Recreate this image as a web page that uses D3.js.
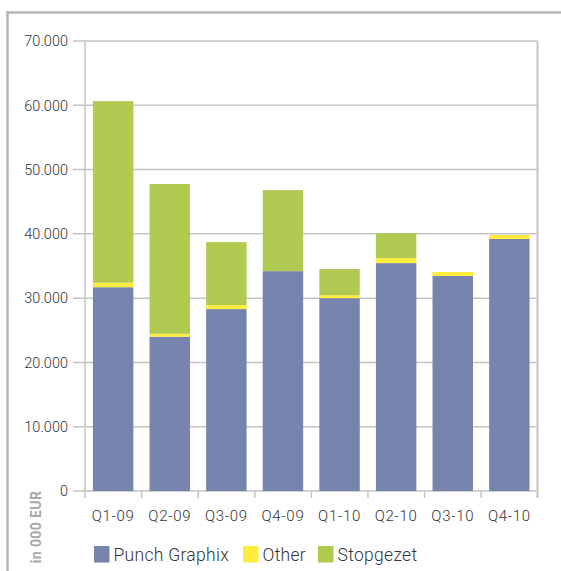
<!DOCTYPE html>
<html><head><meta charset="utf-8">
<script src="https://cdn.jsdelivr.net/npm/d3@7"></script>
<style>
body{margin:0;background:#fff;}
svg{display:block;}
text{font-family:Roboto,"Liberation Sans",sans-serif;}
</style></head><body>
<script>
const categories = ["Q1-09","Q2-09","Q3-09","Q4-09","Q1-10","Q2-10","Q3-10","Q4-10"];
const punchGraphix = [31700, 24000, 28300, 34200, 30000, 35450, 33450, 39200];
const other = [700, 450, 620, 0, 460, 780, 620, 620];
const stopgezet = [28250, 23300, 9800, 12600, 4070, 3880, 0, 0];
const seriesNames = ["Punch Graphix","Other","Stopgezet"];
const seriesColors = ["#7784ad","#ffec3b","#b1cb52"];
const yTicks = [0,10000,20000,30000,40000,50000,60000,70000];

(function(){
const W = 561, H = 571;
const svg = d3.select("body").append("svg").attr("width", W).attr("height", H);

// outer frame
svg.append("line").attr("x1",7).attr("x2",W).attr("y1",12.5).attr("y2",12.5).attr("stroke","#b4b4b4").attr("stroke-width",2.5);
svg.append("line").attr("x1",7.5).attr("x2",7.5).attr("y1",11).attr("y2",H).attr("stroke","#b4b4b4").attr("stroke-width",2.5);

const pLeft = 85, pRight = 537.5, pTop = 41, pBottom = 491;
const x = d3.scaleBand().domain(categories).range([pLeft, pRight]).paddingInner(0.285).paddingOuter(0.14);
const y = d3.scaleLinear().domain([0,70000]).range([pBottom, pTop]);

const table = categories.map((c,i)=>({cat:c, "Punch Graphix":punchGraphix[i], "Other":other[i], "Stopgezet":stopgezet[i]}));
const stack = d3.stack().keys(seriesNames)(table);

const fmt = d => d3.format(",")(d).replace(/,/g,".");
svg.append("g").selectAll("line").data(yTicks).join("line")
  .attr("x1",73).attr("x2",pRight).attr("y1",d=>y(d)).attr("y2",d=>y(d))
  .attr("stroke","#c4c4c4").attr("stroke-width",1.5);
svg.append("line").attr("x1",pLeft).attr("x2",pLeft).attr("y1",pTop).attr("y2",pBottom+7).attr("stroke","#c4c4c4").attr("stroke-width",1.5);
svg.append("line").attr("x1",pRight).attr("x2",pRight).attr("y1",pTop).attr("y2",pBottom+7).attr("stroke","#c4c4c4").attr("stroke-width",2);

const step = x.step();
const bounds = d3.range(categories.length+1).map(i => pLeft + i*step);
svg.append("g").selectAll("line").data(bounds.slice(1,-1)).join("line")
  .attr("x1",d=>d).attr("x2",d=>d).attr("y1",pBottom).attr("y2",pBottom+7)
  .attr("stroke","#c4c4c4").attr("stroke-width",1.5);

svg.append("g").selectAll("text").data(yTicks).join("text")
  .attr("x",68).attr("y",d=>y(d)).attr("dy","0.36em").attr("text-anchor","end")
  .attr("font-size",14.5).attr("font-weight",300).attr("fill","#333").text(fmt);

svg.append("g").selectAll("g").data(stack).join("g")
  .attr("fill",(d,i)=>seriesColors[i])
  .selectAll("rect").data(d=>d).join("rect")
  .attr("x",d=>x(d.data.cat)).attr("width",x.bandwidth())
  .attr("y",d=>y(d[1])).attr("height",d=>y(d[0])-y(d[1]));

svg.append("g").selectAll("text").data(categories).join("text")
  .attr("x",d=>x(d)+x.bandwidth()/2).attr("y",521).attr("text-anchor","middle")
  .attr("font-size",15).attr("font-weight",300).attr("letter-spacing",0.7).attr("fill","#333").text(d=>d);

svg.append("text").attr("transform","translate(40.5,527) rotate(-90)")
  .attr("text-anchor","middle").attr("font-size",14).attr("font-weight","bold").attr("letter-spacing",0.4)
  .attr("fill","#a8a8a8").text("in 000 EUR");

const legX = [94, 243, 318];
const lg = svg.append("g").selectAll("g").data(seriesNames).join("g")
  .attr("transform",(d,i)=>`translate(${legX[i]},546)`);
lg.append("rect").attr("width",15.5).attr("height",16.5).attr("fill",(d,i)=>seriesColors[i]);
lg.append("text").attr("x",19.5).attr("y",15).attr("font-size",17.5).attr("font-weight",300).attr("letter-spacing",0.3).attr("fill","#333").text(d=>d);
})();
</script>
</body></html>
